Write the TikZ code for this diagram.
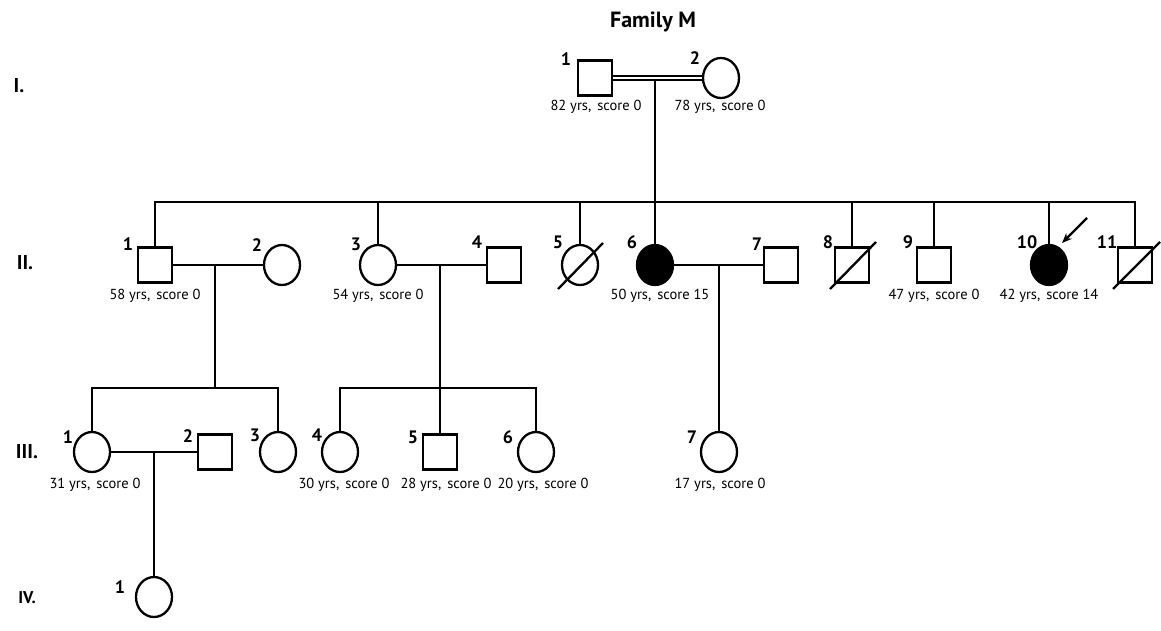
\documentclass[tikz,border=0pt]{standalone}
\usepackage{fontspec}
\setmainfont{PT Sans}
\usetikzlibrary{arrows.meta,shapes.geometric}
\newcommand{\yrs}[2]{#1 yrs,\hspace{6pt}score #2}
\begin{document}
\begin{tikzpicture}[x=1pt,y=-1pt]
\tikzset{
  ln/.style={line width=2.3pt},
  male/.style={draw, ln, rectangle, minimum width=34pt, minimum height=35pt, inner sep=0pt},
  female/.style={draw, ln, ellipse, minimum width=36pt, minimum height=40pt, inner sep=0pt},
  aff/.style={fill=black},
  num/.style={font=\bfseries\fontsize{18}{18}\selectfont, inner sep=0pt},
  age/.style={font=\fontsize{14.5}{14.5}\selectfont, inner sep=0pt},
  gen/.style={font=\bfseries\fontsize{20}{20}\selectfont, inner sep=0pt},
  dec/.style={ln}
}
\useasboundingbox (0,0) rectangle (1161,630);

% title
\node[font=\bfseries\fontsize{22}{22}\selectfont] (title) at (653,22) {Family M};

% generation labels
\node[gen] (gI) at (19,86) {I.};
\node[gen] (gII) at (25,263) {II.};
\node[gen] (gIII) at (27,452) {III.};
\node[gen, font=\bfseries\fontsize{17}{17}\selectfont] (gIV) at (27,598) {IV.};

% Generation I
\node[male] (i1) at (595,78) {};
\node[female] (i2) at (721,78) {};
\node[num] (n-i1) at (566,59) {1};
\node[num] (n-i2) at (695,58) {2};
\node[age] (a-i1) at (596,107) {\yrs{82}{0}};
\node[age] (a-i2) at (720,107) {\yrs{78}{0}};
\draw[line width=1.8pt, double, double distance=2.8pt] (i1) -- (i2);
\coordinate (m1) at (655,80);
\coordinate (sib) at (0,202);

% Generation II
\node[male] (ii1) at (155,265) {};
\node[female] (ii2) at (282,265) {};
\node[female] (ii3) at (378,265) {};
\node[male] (ii4) at (504,265) {};
\node[female] (ii5) at (580,265) {};
\node[female, aff] (ii6) at (655,265) {};
\node[male] (ii7) at (781,265) {};
\node[male] (ii8) at (852,265) {};
\node[male] (ii9) at (934,265) {};
\node[female, aff] (ii10) at (1049,265) {};
\node[male] (ii11) at (1135,265) {};

\node[num] at (128,244) (n-ii1) {1};
\node[num] at (257,245) (n-ii2) {2};
\node[num] at (356,244) (n-ii3) {3};
\node[num] at (477,242) (n-ii4) {4};
\node[num] at (558,242) (n-ii5) {5};
\node[num] at (632,242) (n-ii6) {6};
\node[num] at (757,244) (n-ii7) {7};
\node[num] at (828,242) (n-ii8) {8};
\node[num] at (908,242) (n-ii9) {9};
\node[num] at (1027,242) (n-ii10) {10};
\node[num] at (1107,242) (n-ii11) {11};

\node[age] (a-ii1) at (155,296) {\yrs{58}{0}};
\node[age] (a-ii3) at (378,296) {\yrs{54}{0}};
\node[age] (a-ii6) at (660,296) {\yrs{50}{15}};
\node[age] (a-ii9) at (934,296) {\yrs{47}{0}};
\node[age] (a-ii10) at (1049,296) {\yrs{42}{14}};

% sibship of generation II
\draw[ln] (m1) -- (ii6.north);
\draw[ln] (ii1.north) -- (ii1.north |- sib) -- (ii11.north |- sib) -- (ii11.north);
\foreach \k in {ii3,ii5,ii8,ii9,ii10} \draw[ln] (\k.north) -- (\k.north |- sib);

% deceased marks
\draw[dec] (ii5.center) ++(-22,24) -- ++(45,-46);
\draw[dec] (ii8.center) ++(-22,24) -- ++(46,-47);
\draw[dec] (ii11.center) ++(-22,24) -- ++(47,-47);

% proband arrow
\coordinate (pa) at (1087,218);
\coordinate (pb) at (1062,243);
\draw[ln, -{Stealth[length=10pt,width=8pt]}] (pa) -- (pb);

% couples generation II
\draw[ln] (ii1) -- (ii2);
\draw[ln] (ii3) -- (ii4);
\draw[ln] (ii6) -- (ii7);
\coordinate (c1) at (215,265);
\coordinate (c2) at (440,265);
\coordinate (c3) at (719,265);
\coordinate (sib3) at (0,388);

% Generation III
\node[female] (iii1) at (92,452) {};
\node[male] (iii2) at (215,452) {};
\node[female] (iii3) at (278,452) {};
\node[female] (iii4) at (340,452) {};
\node[male] (iii5) at (440,452) {};
\node[female] (iii6) at (536,452) {};
\node[female] (iii7) at (719,452) {};

\node[num] at (68,437) (n-iii1) {1};
\node[num] at (188,436) (n-iii2) {2};
\node[num] at (255,435) (n-iii3) {3};
\node[num] at (317,435) (n-iii4) {4};
\node[num] at (413,437) (n-iii5) {5};
\node[num] at (508,437) (n-iii6) {6};
\node[num] at (692,437) (n-iii7) {7};

\node[age] (a-iii1) at (95,485) {\yrs{31}{0}};
\node[age] (a-iii4) at (344,485) {\yrs{30}{0}};
\node[age] (a-iii5) at (446,485) {\yrs{28}{0}};
\node[age] (a-iii6) at (543,485) {\yrs{20}{0}};
\node[age] (a-iii7) at (720,485) {\yrs{17}{0}};

\draw[ln] (c1) -- (c1 |- sib3);
\draw[ln] (iii1.north) -- (iii1.north |- sib3) -- (iii3.north |- sib3) -- (iii3.north);
\draw[ln] (c2) -- (iii5.north);
\draw[ln] (iii4.north) -- (iii4.north |- sib3) -- (iii6.north |- sib3) -- (iii6.north);
\draw[ln] (c3) -- (iii7.north);

% couple generation III
\draw[ln] (iii1) -- (iii2);
\coordinate (c4) at (154,452);

% Generation IV
\node[female] (iv1) at (154,597) {};
\node[num] at (120,587) (n-iv1) {1};
\draw[ln] (c4) -- (iv1.north);
\end{tikzpicture}
\end{document}
